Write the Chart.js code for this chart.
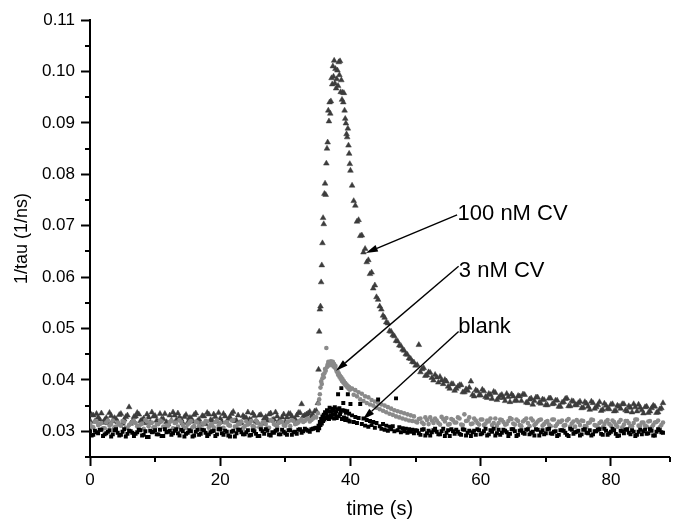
<!DOCTYPE html>
<html>
<head>
<meta charset="utf-8">
<title>1/tau vs time</title>
<script src="https://cdn.jsdelivr.net/npm/chart.js@4.4.1/dist/chart.umd.min.js"></script>
<style>
  html, body { margin: 0; padding: 0; background: #fff; }
  #wrap { width: 674px; height: 522px; position: relative; }
</style>
</head>
<body>
<div id="wrap"><canvas id="tauChart"></canvas></div>
<script>
// sampling times (s)
const times = [
    0, 0.5, 1, 1.5, 2, 2.5, 3, 3.5, 4, 4.5,
    5, 5.5, 6, 6.5, 7, 7.5, 8, 8.5, 9, 9.5,
    10, 10.5, 11, 11.5, 12, 12.5, 13, 13.5, 14, 14.5,
    15, 15.5, 16, 16.5, 17, 17.5, 18, 18.5, 19, 19.5,
    20, 20.5, 21, 21.5, 22, 22.5, 23, 23.5, 24, 24.5,
    25, 25.5, 26, 26.5, 27, 27.5, 28, 28.5, 29, 29.5,
    30, 30.5, 31, 31.5, 32, 32.5, 33, 33.5, 34, 34.5,
    35, 35.1, 35.2, 35.3, 35.4, 35.5, 35.6, 35.7, 35.8, 35.9,
    36, 36.1, 36.2, 36.3, 36.4, 36.5, 36.6, 36.7, 36.8, 36.9,
    37, 37.1, 37.2, 37.3, 37.4, 37.5, 37.6, 37.7, 37.8, 37.9,
    38, 38.1, 38.2, 38.3, 38.4, 38.5, 38.6, 38.7, 38.8, 38.9,
    39, 39.1, 39.2, 39.3, 39.4, 39.5, 39.6, 39.7, 39.8, 39.9,
    40,
    40.25, 40.5, 40.75, 41, 41.25, 41.5, 41.75, 42, 42.25, 42.5,
    42.75, 43, 43.25, 43.5, 43.75, 44, 44.25, 44.5, 44.75, 45,
    45.25, 45.5, 45.75, 46, 46.25, 46.5, 46.75, 47, 47.25, 47.5,
    47.75, 48, 48.25, 48.5, 48.75, 49, 49.25, 49.5, 49.75, 50,
    50.5, 51, 51.5, 52, 52.5, 53, 53.5, 54, 54.5, 55,
    55.5, 56, 56.5, 57, 57.5, 58, 58.5, 59, 59.5, 60,
    60.5, 61, 61.5, 62, 62.5, 63, 63.5, 64, 64.5, 65,
    65.5, 66, 66.5, 67, 67.5, 68, 68.5, 69, 69.5, 70,
    70.5, 71, 71.5, 72, 72.5, 73, 73.5, 74, 74.5, 75,
    75.5, 76, 76.5, 77, 77.5, 78, 78.5, 79, 79.5, 80,
    80.5, 81, 81.5, 82, 82.5, 83, 83.5, 84, 84.5, 85,
    85.5, 86, 86.5, 87, 87.5, 88
];

// in-between samples on the flat stretches (s)
const times2 = [
    0.25, 0.75, 1.25, 1.75, 2.25, 2.75, 3.25, 3.75, 4.25, 4.75,
    5.25, 5.75, 6.25, 6.75, 7.25, 7.75, 8.25, 8.75, 9.25, 9.75,
    10.25, 10.75, 11.25, 11.75, 12.25, 12.75, 13.25, 13.75, 14.25, 14.75,
    15.25, 15.75, 16.25, 16.75, 17.25, 17.75, 18.25, 18.75, 19.25, 19.75,
    20.25, 20.75, 21.25, 21.75, 22.25, 22.75, 23.25, 23.75, 24.25, 24.75,
    25.25, 25.75, 26.25, 26.75, 27.25, 27.75, 28.25, 28.75, 29.25, 29.75,
    30.25, 30.75, 31.25, 31.75, 32.25, 32.75, 33.25, 33.75, 34.25, 34.75,
    50.25, 50.75, 51.25, 51.75, 52.25, 52.75, 53.25, 53.75, 54.25, 54.75,
    55.25, 55.75, 56.25, 56.75, 57.25, 57.75, 58.25, 58.75, 59.25, 59.75,
    60.25, 60.75, 61.25, 61.75, 62.25, 62.75, 63.25, 63.75, 64.25, 64.75,
    65.25, 65.75, 66.25, 66.75, 67.25, 67.75, 68.25, 68.75, 69.25, 69.75,
    70.25, 70.75, 71.25, 71.75, 72.25, 72.75, 73.25, 73.75, 74.25, 74.75,
    75.25, 75.75, 76.25, 76.75, 77.25, 77.75, 78.25, 78.75, 79.25, 79.75,
    80.25, 80.75, 81.25, 81.75, 82.25, 82.75, 83.25, 83.75, 84.25, 84.75,
    85.25, 85.75, 86.25, 86.75, 87.25, 87.75
];

// blank (1/ns)
const blankValues = [
    0.0300, 0.0293, 0.0298, 0.0303, 0.0291, 0.0296, 0.0302, 0.0294, 0.0304, 0.0292,
    0.0299, 0.0290, 0.0301, 0.0297, 0.0295, 0.0303, 0.0292, 0.0300, 0.0289, 0.0298,
    0.0302, 0.0294, 0.0291, 0.0304, 0.0299, 0.0293, 0.0301, 0.0296, 0.0303, 0.0290,
    0.0297, 0.0300, 0.0292, 0.0303, 0.0295, 0.0302, 0.0291, 0.0298, 0.0301, 0.0294,
    0.0304, 0.0293, 0.0299, 0.0290, 0.0301, 0.0296, 0.0303, 0.0294, 0.0298, 0.0292,
    0.0302, 0.0295, 0.0291, 0.0300, 0.0304, 0.0293, 0.0298, 0.0301, 0.0294, 0.0303,
    0.0296, 0.0302, 0.0293, 0.0299, 0.0303, 0.0297, 0.0305, 0.0301, 0.0304, 0.0306,
    0.0302, 0.0311, 0.0306, 0.0318, 0.0312, 0.0324, 0.0315, 0.0329, 0.0320, 0.0332,
    0.0323, 0.0337, 0.0326, 0.0334, 0.0341, 0.0328, 0.0339, 0.0324, 0.0346, 0.0331,
    0.0338, 0.0327, 0.0344, 0.0333, 0.0340, 0.0325, 0.0347, 0.0332, 0.0339, 0.0326,
    0.0343, 0.0372, 0.0329, 0.0345, 0.0333, 0.0338, 0.0384, 0.0324, 0.0341, 0.0355,
    0.0327, 0.0340, 0.0322, 0.0336, 0.0325, 0.0339, 0.0372, 0.0321, 0.0334, 0.0319,
    0.0353,
    0.0331, 0.0318, 0.0328, 0.0316, 0.0326, 0.0353, 0.0314, 0.0325, 0.0311, 0.0322,
    0.0309, 0.0320, 0.0312, 0.0318, 0.0307, 0.0316, 0.0362, 0.0310, 0.0305, 0.0314,
    0.0303, 0.0311, 0.0301, 0.0309, 0.0304, 0.0310, 0.0300, 0.0364, 0.0302, 0.0308,
    0.0298, 0.0306, 0.0300, 0.0305, 0.0297, 0.0304, 0.0299, 0.0303, 0.0296, 0.0302,
    0.0296, 0.0303, 0.0292, 0.0301, 0.0298, 0.0305, 0.0294, 0.0300, 0.0291, 0.0302,
    0.0304, 0.0295, 0.0299, 0.0293, 0.0303, 0.0297, 0.0291, 0.0301, 0.0304, 0.0294,
    0.0300, 0.0292, 0.0302, 0.0305, 0.0296, 0.0293, 0.0303, 0.0298, 0.0295, 0.0304,
    0.0291, 0.0301, 0.0297, 0.0303, 0.0294, 0.0299, 0.0304, 0.0292, 0.0302, 0.0296,
    0.0305, 0.0295, 0.0300, 0.0293, 0.0302, 0.0297, 0.0291, 0.0303, 0.0298, 0.0301,
    0.0294, 0.0304, 0.0296, 0.0292, 0.0300, 0.0303, 0.0295, 0.0305, 0.0293, 0.0299,
    0.0302, 0.0291, 0.0301, 0.0296, 0.0304, 0.0294, 0.0299, 0.0293, 0.0303, 0.0300,
    0.0295, 0.0304, 0.0292, 0.0299, 0.0302, 0.0297
];
const blankValues2 = [
    0.0292, 0.0301, 0.0296, 0.0303, 0.0294, 0.0299, 0.0290, 0.0302, 0.0297, 0.0293,
    0.0304, 0.0295, 0.0300, 0.0291, 0.0298, 0.0302, 0.0293, 0.0289, 0.0301, 0.0299,
    0.0294, 0.0303, 0.0291, 0.0298, 0.0301, 0.0296, 0.0304, 0.0292, 0.0300, 0.0295,
    0.0302, 0.0290, 0.0299, 0.0293, 0.0303, 0.0297, 0.0294, 0.0300, 0.0291, 0.0304,
    0.0296, 0.0301, 0.0292, 0.0299, 0.0290, 0.0303, 0.0298, 0.0294, 0.0302, 0.0293,
    0.0300, 0.0291, 0.0304, 0.0295, 0.0301, 0.0292, 0.0297, 0.0303, 0.0294, 0.0299,
    0.0293, 0.0302, 0.0298, 0.0295, 0.0304, 0.0300, 0.0303, 0.0299, 0.0305, 0.0307,
    0.0301, 0.0293, 0.0304, 0.0296, 0.0292, 0.0302, 0.0299, 0.0294, 0.0305, 0.0297,
    0.0291, 0.0300, 0.0303, 0.0295, 0.0304, 0.0292, 0.0301, 0.0298, 0.0293, 0.0302,
    0.0296, 0.0305, 0.0294, 0.0299, 0.0292, 0.0303, 0.0297, 0.0301, 0.0291, 0.0304,
    0.0300, 0.0293, 0.0302, 0.0295, 0.0304, 0.0297, 0.0292, 0.0303, 0.0298, 0.0294,
    0.0304, 0.0296, 0.0299, 0.0291, 0.0302, 0.0301, 0.0293, 0.0305, 0.0295, 0.0299,
    0.0292, 0.0303, 0.0297, 0.0302, 0.0294, 0.0300, 0.0304, 0.0293, 0.0301, 0.0296,
    0.0305, 0.0295, 0.0292, 0.0300, 0.0303, 0.0297, 0.0302, 0.0291, 0.0299, 0.0294,
    0.0303, 0.0296, 0.0301, 0.0292, 0.0304, 0.0298
];

// 3 nM CV (1/ns)
const cv3Values = [
    0.0315, 0.0308, 0.0319, 0.0314, 0.0306, 0.0317, 0.0311, 0.0321, 0.0309, 0.0313,
    0.0320, 0.0307, 0.0312, 0.0318, 0.0316, 0.0305, 0.0315, 0.0322, 0.0310, 0.0317,
    0.0308, 0.0314, 0.0319, 0.0306, 0.0311, 0.0321, 0.0316, 0.0309, 0.0318, 0.0307,
    0.0313, 0.0320, 0.0310, 0.0317, 0.0304, 0.0315, 0.0319, 0.0312, 0.0308, 0.0321,
    0.0316, 0.0307, 0.0318, 0.0311, 0.0322, 0.0309, 0.0314, 0.0306, 0.0319, 0.0315,
    0.0310, 0.0321, 0.0308, 0.0317, 0.0314, 0.0307, 0.0320, 0.0312, 0.0316, 0.0318,
    0.0311, 0.0319, 0.0322, 0.0314, 0.0317, 0.0323, 0.0320, 0.0325, 0.0322, 0.0328,
    0.0335, 0.0354, 0.0362, 0.0372, 0.0385, 0.0397, 0.0392, 0.0403, 0.0410, 0.0405,
    0.0413, 0.0421, 0.0418, 0.0462, 0.0425, 0.0430, 0.0435, 0.0428, 0.0434, 0.0431,
    0.0436, 0.0433, 0.0429, 0.0435, 0.0426, 0.0431, 0.0424, 0.0427, 0.0420, 0.0416,
    0.0418, 0.0410, 0.0413, 0.0406, 0.0408, 0.0402, 0.0405, 0.0398, 0.0401, 0.0395,
    0.0397, 0.0392, 0.0394, 0.0389, 0.0391, 0.0386, 0.0388, 0.0383, 0.0386, 0.0381,
    0.0383,
    0.0383, 0.0371, 0.0380, 0.0368, 0.0376, 0.0362, 0.0373, 0.0359, 0.0368, 0.0355,
    0.0366, 0.0352, 0.0361, 0.0350, 0.0358, 0.0346, 0.0355, 0.0343, 0.0352, 0.0340,
    0.0350, 0.0337, 0.0347, 0.0334, 0.0344, 0.0332, 0.0341, 0.0329, 0.0339, 0.0327,
    0.0337, 0.0325, 0.0335, 0.0323, 0.0333, 0.0321, 0.0331, 0.0320, 0.0329, 0.0319,
    0.0324, 0.0317, 0.0327, 0.0314, 0.0321, 0.0325, 0.0316, 0.0328, 0.0319, 0.0313,
    0.0324, 0.0317, 0.0327, 0.0313, 0.0333, 0.0321, 0.0314, 0.0325, 0.0316, 0.0323,
    0.0312, 0.0321, 0.0325, 0.0316, 0.0311, 0.0323, 0.0318, 0.0314, 0.0326, 0.0315,
    0.0323, 0.0312, 0.0319, 0.0325, 0.0310, 0.0321, 0.0315, 0.0322, 0.0311, 0.0318,
    0.0313, 0.0323, 0.0310, 0.0319, 0.0321, 0.0312, 0.0324, 0.0315, 0.0309, 0.0318,
    0.0321, 0.0310, 0.0316, 0.0323, 0.0312, 0.0308, 0.0319, 0.0314, 0.0322, 0.0311,
    0.0318, 0.0309, 0.0322, 0.0313, 0.0320, 0.0310, 0.0316, 0.0323, 0.0311, 0.0317,
    0.0309, 0.0320, 0.0312, 0.0318, 0.0308, 0.0317
];
const cv3Values2 = [
    0.0309, 0.0319, 0.0312, 0.0316, 0.0306, 0.0321, 0.0314, 0.0308, 0.0317, 0.0311,
    0.0318, 0.0307, 0.0315, 0.0320, 0.0310, 0.0313, 0.0305, 0.0319, 0.0316, 0.0308,
    0.0314, 0.0321, 0.0309, 0.0311, 0.0318, 0.0306, 0.0317, 0.0322, 0.0312, 0.0307,
    0.0316, 0.0308, 0.0319, 0.0310, 0.0315, 0.0320, 0.0307, 0.0314, 0.0318, 0.0311,
    0.0306, 0.0317, 0.0312, 0.0321, 0.0309, 0.0315, 0.0319, 0.0310, 0.0313, 0.0320,
    0.0308, 0.0316, 0.0311, 0.0318, 0.0307, 0.0322, 0.0314, 0.0309, 0.0319, 0.0312,
    0.0317, 0.0310, 0.0320, 0.0315, 0.0321, 0.0318, 0.0324, 0.0319, 0.0325, 0.0327,
    0.0317, 0.0325, 0.0314, 0.0322, 0.0327, 0.0316, 0.0321, 0.0313, 0.0324, 0.0326,
    0.0314, 0.0322, 0.0317, 0.0325, 0.0312, 0.0320, 0.0327, 0.0315, 0.0321, 0.0313,
    0.0323, 0.0315, 0.0319, 0.0312, 0.0325, 0.0316, 0.0322, 0.0313, 0.0320, 0.0324,
    0.0313, 0.0320, 0.0310, 0.0322, 0.0316, 0.0325, 0.0312, 0.0319, 0.0323, 0.0314,
    0.0320, 0.0310, 0.0323, 0.0314, 0.0318, 0.0311, 0.0321, 0.0309, 0.0319, 0.0322,
    0.0312, 0.0320, 0.0309, 0.0317, 0.0322, 0.0311, 0.0316, 0.0308, 0.0319, 0.0314,
    0.0321, 0.0313, 0.0318, 0.0308, 0.0320, 0.0316, 0.0310, 0.0323, 0.0311, 0.0317,
    0.0311, 0.0319, 0.0308, 0.0317, 0.0321, 0.0312
];

// 100 nM CV (1/ns)
const cv100Values = [
    0.0321, 0.0331, 0.0334, 0.0323, 0.0317, 0.0326, 0.0336, 0.0320, 0.0324, 0.0332,
    0.0315, 0.0328, 0.0347, 0.0319, 0.0329, 0.0333, 0.0322, 0.0316, 0.0327, 0.0337,
    0.0330, 0.0318, 0.0324, 0.0334, 0.0314, 0.0321, 0.0331, 0.0335, 0.0323, 0.0328,
    0.0317, 0.0326, 0.0332, 0.0320, 0.0313, 0.0329, 0.0336, 0.0322, 0.0333, 0.0319,
    0.0325, 0.0334, 0.0318, 0.0327, 0.0338, 0.0321, 0.0316, 0.0330, 0.0326, 0.0323,
    0.0335, 0.0319, 0.0331, 0.0315, 0.0328, 0.0333, 0.0322, 0.0337, 0.0320, 0.0327,
    0.0318, 0.0334, 0.0329, 0.0324, 0.0336, 0.0353, 0.0331, 0.0335, 0.0328, 0.0339,
    0.0355, 0.0420, 0.0494, 0.0537, 0.0543, 0.0590, 0.0623, 0.0666, 0.0715, 0.0703,
    0.0762, 0.0782, 0.0760, 0.0821, 0.0850, 0.0862, 0.0924, 0.0903, 0.0940, 0.0918,
    0.0942, 0.0987, 0.0975, 0.1010, 0.0990, 0.1021, 0.0977, 0.1005, 0.0967, 0.0985,
    0.1002, 0.0972, 0.1018, 0.0993, 0.1020, 0.0960, 0.0983, 0.0945, 0.0959, 0.0940,
    0.0958, 0.0924, 0.0908, 0.0899, 0.0878, 0.0872, 0.0889, 0.0856, 0.0840, 0.0820,
    0.0807,
    0.0778, 0.0748, 0.0739, 0.0708, 0.0711, 0.0680, 0.0681, 0.0648, 0.0655, 0.0629,
    0.0633, 0.0606, 0.0609, 0.0578, 0.0584, 0.0561, 0.0556, 0.0543, 0.0537, 0.0525,
    0.0521, 0.0512, 0.0510, 0.0495, 0.0494, 0.0487, 0.0485, 0.0476, 0.0475, 0.0467,
    0.0466, 0.0459, 0.0457, 0.0450, 0.0449, 0.0442, 0.0441, 0.0435, 0.0434, 0.0428,
    0.0468, 0.0421, 0.0408, 0.0415, 0.0404, 0.0410, 0.0395, 0.0399, 0.0400, 0.0387,
    0.0392, 0.0379, 0.0387, 0.0390, 0.0376, 0.0379, 0.0397, 0.0368, 0.0378, 0.0370,
    0.0378, 0.0365, 0.0371, 0.0377, 0.0361, 0.0369, 0.0365, 0.0373, 0.0357, 0.0368,
    0.0360, 0.0368, 0.0372, 0.0356, 0.0362, 0.0352, 0.0366, 0.0356, 0.0362, 0.0351,
    0.0364, 0.0353, 0.0360, 0.0348, 0.0356, 0.0363, 0.0349, 0.0359, 0.0351, 0.0355,
    0.0345, 0.0357, 0.0348, 0.0358, 0.0344, 0.0351, 0.0340, 0.0354, 0.0344, 0.0352,
    0.0339, 0.0350, 0.0344, 0.0353, 0.0339, 0.0346, 0.0353, 0.0339, 0.0346, 0.0335,
    0.0348, 0.0339, 0.0350, 0.0336, 0.0343, 0.0355
];
const cv100Values2 = [
    0.0332, 0.0319, 0.0327, 0.0335, 0.0322, 0.0316, 0.0330, 0.0326, 0.0318, 0.0334,
    0.0323, 0.0331, 0.0315, 0.0328, 0.0336, 0.0320, 0.0325, 0.0333, 0.0317, 0.0329,
    0.0321, 0.0334, 0.0324, 0.0318, 0.0331, 0.0337, 0.0322, 0.0327, 0.0316, 0.0332,
    0.0326, 0.0319, 0.0335, 0.0323, 0.0330, 0.0314, 0.0333, 0.0321, 0.0328, 0.0336,
    0.0318, 0.0329, 0.0324, 0.0334, 0.0320, 0.0331, 0.0316, 0.0327, 0.0337, 0.0322,
    0.0330, 0.0317, 0.0332, 0.0325, 0.0321, 0.0335, 0.0323, 0.0329, 0.0319, 0.0333,
    0.0327, 0.0334, 0.0322, 0.0331, 0.0336, 0.0329, 0.0333, 0.0338, 0.0332, 0.0340,
    0.0429, 0.0415, 0.0423, 0.0409, 0.0414, 0.0399, 0.0405, 0.0406, 0.0392, 0.0397,
    0.0383, 0.0392, 0.0383, 0.0390, 0.0376, 0.0382, 0.0385, 0.0371, 0.0380, 0.0370,
    0.0381, 0.0367, 0.0373, 0.0363, 0.0375, 0.0365, 0.0371, 0.0359, 0.0367, 0.0372,
    0.0359, 0.0369, 0.0359, 0.0371, 0.0355, 0.0364, 0.0359, 0.0366, 0.0354, 0.0361,
    0.0351, 0.0364, 0.0354, 0.0360, 0.0348, 0.0357, 0.0364, 0.0349, 0.0358, 0.0351,
    0.0358, 0.0346, 0.0354, 0.0342, 0.0355, 0.0347, 0.0357, 0.0342, 0.0350, 0.0343,
    0.0353, 0.0340, 0.0348, 0.0353, 0.0341, 0.0349, 0.0337, 0.0347, 0.0352, 0.0341,
    0.0347, 0.0336, 0.0345, 0.0348, 0.0337, 0.0345
];

const seriesNames = ['blank', '3 nM CV', '100 nM CV'];

// arrow labels: text anchor, line start, arrow tip (data coords)
const callouts = [
    { text: '100 nM CV', at: [56.45, 0.0711], from: [56.38, 0.0721], tip: [42.36, 0.0647] },
    { text: '3 nM CV',   at: [56.65, 0.0600], from: [56.61, 0.0621], tip: [37.79, 0.0418] },
    { text: 'blank',     at: [56.56, 0.0491], from: [56.61, 0.0494], tip: [41.90, 0.0323] }
];

const FONT = "'Liberation Sans', Arial, sans-serif";

function toPoints(values, ts) {
    const n = Math.min(values.length, ts.length);
    const pts = [];
    for (let i = 0; i < n; i++) pts.push({ x: ts[i], y: values[i] });
    return pts;
}

function seriesPoints(main, extra) {
    return toPoints(main, times).concat(toPoints(extra, times2));
}

function isMajorY(v) { return Math.round(v * 1000) % 10 === 0; }
function isMajorX(v) { return Math.round(v) % 20 === 0; }

// short minor ticks + arrows with labels
const extrasPlugin = {
    id: 'extras',
    afterDraw(chart) {
        const ctx = chart.ctx;
        const xs = chart.scales.x, ys = chart.scales.y;
        ctx.save();
        ctx.strokeStyle = '#000';
        ctx.lineWidth = 2;
        ctx.beginPath();
        xs.ticks.forEach(t => {
            if (isMajorX(t.value)) return;
            const px = Math.round(xs.getPixelForValue(t.value));
            ctx.moveTo(px, xs.top);
            ctx.lineTo(px, xs.top + 5);
        });
        ys.ticks.forEach(t => {
            if (isMajorY(t.value)) return;
            const py = Math.round(ys.getPixelForValue(t.value));
            ctx.moveTo(ys.right, py);
            ctx.lineTo(ys.right - 5, py);
        });
        ctx.stroke();

        ctx.fillStyle = '#000';
        ctx.font = '22px ' + FONT;
        ctx.textAlign = 'left';
        ctx.textBaseline = 'alphabetic';
        callouts.forEach(c => {
            ctx.fillText(c.text, xs.getPixelForValue(c.at[0]), ys.getPixelForValue(c.at[1]));
            const x0 = xs.getPixelForValue(c.from[0]), y0 = ys.getPixelForValue(c.from[1]);
            const x1 = xs.getPixelForValue(c.tip[0]), y1 = ys.getPixelForValue(c.tip[1]);
            const ang = Math.atan2(y1 - y0, x1 - x0);
            const len = 12, half = 3.5;
            const bx = x1 - Math.cos(ang) * len, by = y1 - Math.sin(ang) * len;
            ctx.lineWidth = 1.4;
            ctx.beginPath();
            ctx.moveTo(x0, y0);
            ctx.lineTo(bx, by);
            ctx.stroke();
            ctx.beginPath();
            ctx.moveTo(x1, y1);
            ctx.lineTo(bx - Math.sin(ang) * half, by + Math.cos(ang) * half);
            ctx.lineTo(bx + Math.sin(ang) * half, by - Math.cos(ang) * half);
            ctx.closePath();
            ctx.fill();
        });
        ctx.restore();
    }
};

const ctx = document.getElementById('tauChart').getContext('2d');
new Chart(ctx, {
    type: 'scatter',
    data: {
        datasets: [
            {
                label: seriesNames[0],
                data: seriesPoints(blankValues, blankValues2),
                pointStyle: 'rect',
                pointRadius: 2.8,
                backgroundColor: '#000000',
                borderColor: '#000000',
                borderWidth: 0
            },
            {
                label: seriesNames[1],
                data: seriesPoints(cv3Values, cv3Values2),
                pointStyle: 'circle',
                pointRadius: 2.3,
                backgroundColor: '#8a8a8a',
                borderColor: '#8a8a8a',
                borderWidth: 0
            },
            {
                label: seriesNames[2],
                data: seriesPoints(cv100Values, cv100Values2),
                pointStyle: 'triangle',
                pointRadius: 3.3,
                backgroundColor: '#3c3c3c',
                borderColor: '#3c3c3c',
                borderWidth: 0.5
            }
        ]
    },
    options: {
        responsive: true,
        maintainAspectRatio: false,
        animation: false,
        layout: { padding: { top: 20, right: 0, bottom: 0, left: 0 } },
        plugins: {
            legend: { display: false },
            tooltip: { enabled: false }
        },
        scales: {
            x: {
                type: 'linear',
                min: 0,
                max: 89,
                afterFit: function (scale) { scale.height = 65; },
                border: { display: true, color: '#000', width: 2 },
                grid: {
                    display: true,
                    drawOnChartArea: false,
                    drawTicks: true,
                    tickLength: 9,
                    tickWidth: 2,
                    tickColor: function (c) { return c.tick && isMajorX(c.tick.value) ? '#000' : 'rgba(0,0,0,0)'; }
                },
                ticks: {
                    stepSize: 10,
                    autoSkip: false,
                    maxRotation: 0,
                    padding: 4,
                    color: '#000',
                    font: { family: FONT, size: 17 },
                    callback: function (v) { return isMajorX(v) ? String(v) : ''; }
                },
                title: {
                    display: true,
                    text: 'time (s)',
                    color: '#000',
                    font: { family: FONT, size: 20 },
                    padding: { top: 0, bottom: 1 }
                }
            },
            y: {
                type: 'linear',
                min: 0.025,
                max: 0.11,
                afterFit: function (scale) { scale.width = 90; },
                border: { display: true, color: '#000', width: 2 },
                grid: {
                    display: true,
                    drawOnChartArea: false,
                    drawTicks: true,
                    tickLength: 9,
                    tickWidth: 2,
                    tickColor: function (c) { return c.tick && isMajorY(c.tick.value) ? '#000' : 'rgba(0,0,0,0)'; }
                },
                ticks: {
                    stepSize: 0.005,
                    autoSkip: false,
                    padding: 6,
                    color: '#000',
                    font: { family: FONT, size: 17 },
                    callback: function (v) { return isMajorY(v) ? v.toFixed(2) : ''; }
                },
                title: {
                    display: true,
                    text: '1/tau (1/ns)',
                    color: '#000',
                    font: { family: FONT, size: 18 },
                    padding: { top: 11, bottom: 0 }
                }
            }
        }
    },
    plugins: [extrasPlugin]
});
</script>
</body>
</html>
